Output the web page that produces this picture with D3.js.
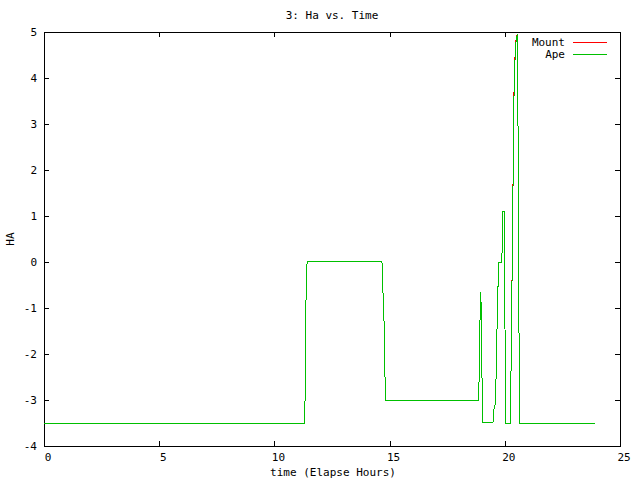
<!DOCTYPE html>
<html><head><meta charset="utf-8">
<script src="https://cdn.jsdelivr.net/npm/d3@7"></script>
<style>body{margin:0;background:#fff}svg{display:block}text{font-family:"DejaVu Sans Mono",monospace;font-size:11px}</style>
</head><body>
<script>
const times = [0,11.318,11.338,11.369,11.419,14.668,14.699,14.769,14.799,14.819,18.874,18.884,18.924,18.964,18.974,18.995,19.015,19.055,19.488,19.518,19.548,19.598,19.628,19.689,19.739,19.870,19.920,19.960,19.981,20.031,20.242,20.282,20.353,20.393,20.433,20.484,20.524,20.564,20.574,20.614,20.655,23.934];
const apeValues = [-3.5,-3.5,-2.64,-0.87,0.02,0.02,-0.45,-1.44,-2.47,-3.0,-3.0,-2.43,-1.26,-0.66,-1.26,-1.37,-2.80,-3.5,-3.48,-3.25,-3.13,-3.08,-2.30,-0.79,0.0,0.0,1.1,1.1,1.1,-3.5,-3.5,-1.84,1.44,3.47,4.3,4.78,4.9,4.95,2.83,-1.39,-3.5,-3.5];
const mountValues = [-3.5,-3.5,-2.64,-0.87,0.02,0.02,-0.45,-1.44,-2.47,-3.0,-3.0,-2.43,-1.26,-0.66,-1.26,-1.37,-2.80,-3.5,-3.48,-3.25,-3.13,-3.08,-2.30,-0.79,0.0,0.0,1.1,1.1,1.1,-3.5,-3.5,-1.84,1.50,3.55,4.36,4.82,4.92,4.95,2.83,-1.39,-3.5,-3.5];
const xTicks = [0,5,10,15,20,25];
const yTicks = [-4,-3,-2,-1,0,1,2,3,4,5];
const seriesNames = ["Mount","Ape"];
const seriesColors = ["#ff0000","#00c000"];

const W=640,H=480,L=44,R=620,T=32,B=446;
const svg=d3.select("body").append("svg").attr("width",W).attr("height",H);
const x=d3.scaleLinear().domain([0,25]).range([L,R]);
const y=d3.scaleLinear().domain([-4,5]).range([B,T]);

const g=svg.append("g").attr("shape-rendering","crispEdges");
xTicks.forEach(t=>{
  g.append("line").attr("x1",x(t)+0.5).attr("x2",x(t)+0.5).attr("y1",B).attr("y2",B-5).attr("stroke","#000");
  g.append("line").attr("x1",x(t)+0.5).attr("x2",x(t)+0.5).attr("y1",T).attr("y2",T+5).attr("stroke","#000");
  svg.append("text").attr("x",x(t)+4).attr("y",B+15).attr("text-anchor","middle").text(t);
});
yTicks.forEach(t=>{
  g.append("line").attr("x1",L).attr("x2",L+5).attr("y1",y(t)+0.5).attr("y2",y(t)+0.5).attr("stroke","#000");
  g.append("line").attr("x1",R).attr("x2",R-5).attr("y1",y(t)+0.5).attr("y2",y(t)+0.5).attr("stroke","#000");
  svg.append("text").attr("x",37).attr("y",y(t)+4).attr("text-anchor","end").text(t);
});

const line=d3.line().x((d,i)=>x(times[i])).y(d=>y(d));
[mountValues,apeValues].forEach((vals,k)=>{
  svg.append("path").datum(vals).attr("d",line).attr("fill","none").attr("stroke",seriesColors[k]).attr("stroke-width",1).attr("shape-rendering","crispEdges");
});

g.append("rect").attr("x",L+0.5).attr("y",T+0.5).attr("width",R-L).attr("height",B-T).attr("fill","none").attr("stroke","#000");

seriesNames.forEach((n,k)=>{
  const ly=42+k*12;
  svg.append("text").attr("x",565).attr("y",ly+4).attr("text-anchor","end").text(n);
  svg.append("line").attr("x1",573).attr("x2",607).attr("y1",ly+0.5).attr("y2",ly+0.5).attr("stroke",seriesColors[k]).attr("shape-rendering","crispEdges");
});

svg.append("text").attr("x",332).attr("y",19).attr("text-anchor","middle").text("3: Ha vs. Time");
svg.append("text").attr("x",333).attr("y",476).attr("text-anchor","middle").text("time (Elapse Hours)");
svg.append("text").attr("transform","translate(14,239) rotate(-90)").attr("text-anchor","middle").text("HA");
</script>
</body></html>
